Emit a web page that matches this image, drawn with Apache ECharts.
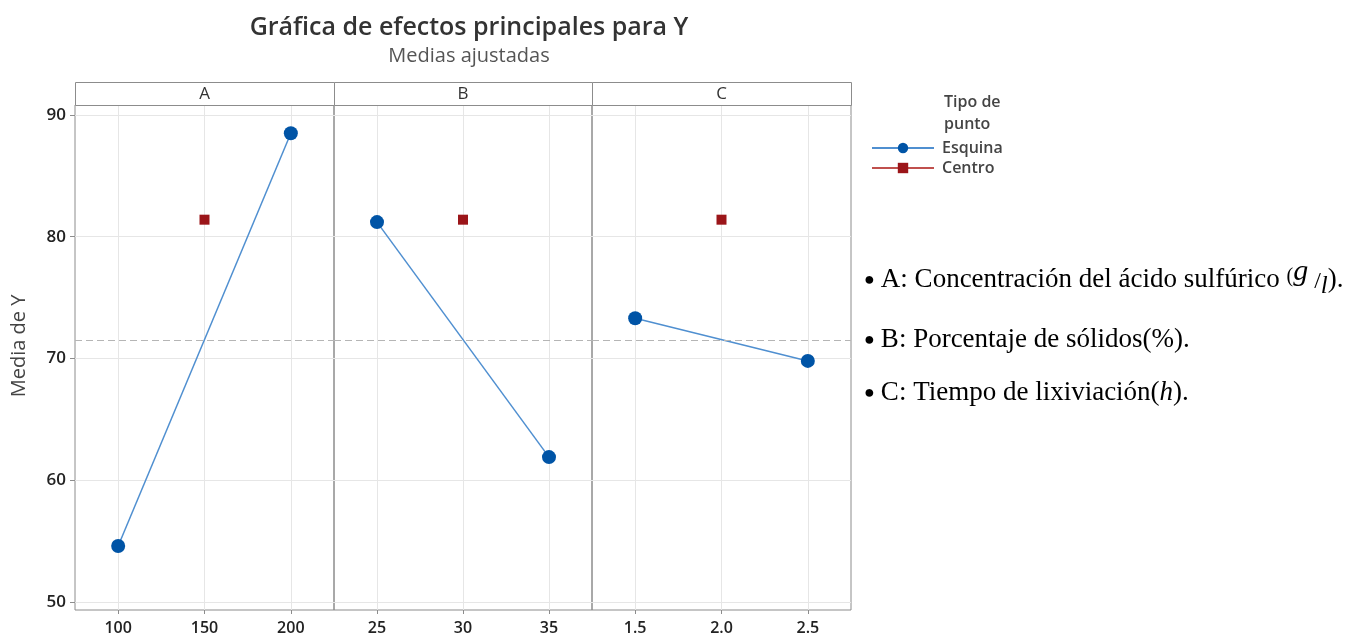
<!DOCTYPE html>
<html>
<head>
<meta charset="utf-8">
<title>Gráfica de efectos principales para Y</title>
<script src="https://cdn.jsdelivr.net/npm/echarts@6/dist/echarts.min.js"></script>
<style>
  html, body { margin: 0; padding: 0; background: #fff; }
  #chart { width: 1350px; height: 639px; }
</style>
</head>
<body>
<div id="chart"></div>
<script>
// niveles de cada factor
const levelsA = [100, 200]
const levelsB = [25, 35]
const levelsC = [1.5, 2.5]
const centerA = 150
const centerB = 30
const centerC = 2.0

// medias ajustadas (puntos de esquina)
const meansA = [54.6, 88.5]
const meansB = [81.2, 61.9]
const meansC = [73.3, 69.8]
// punto central
const centerMean = 81.4
// media general
const grandMean = 71.5

const factorNames = ['A', 'B', 'C']
const xRanges = [[75, 225], [22.5, 37.5], [1.25, 2.75]]
const yRange = [49.34, 90.82]

const notes = [
  'A: Concentración del ácido sulfúrico ',
  'B: Porcentaje de sólidos(%).',
  'C: Tiempo de lixiviación('
]

const font = 'Open Sans'
const blue = '#0054a6'
const lineBlue = '#4f8fd0'
const red = '#9b1519'

const plotLeft = 75
const plotTop = 105
const plotBottom = 610
const panelW = [259, 258, 259]
const stripH = 23

const chart = echarts.init(document.getElementById('chart'))

const grids = []
const xAxes = []
const yAxes = []
const series = []
const graphics = []
let x0 = plotLeft

const corners = [
  [levelsA, meansA, centerA],
  [levelsB, meansB, centerB],
  [levelsC, meansC, centerC]
]

factorNames.forEach((name, i) => {
  grids.push({
    left: x0,
    width: panelW[i],
    top: plotTop,
    height: plotBottom - plotTop,
    show: true,
    borderColor: '#8c8c8c',
    borderWidth: 1
  })
  xAxes.push({
    type: 'value',
    gridIndex: i,
    min: xRanges[i][0],
    max: xRanges[i][1],
    splitNumber: 3,
    axisLine: { show: false },
    axisTick: { show: true, length: 4, lineStyle: { color: '#8c8c8c' } },
    axisLabel: {
      showMinLabel: false,
      showMaxLabel: false,
      margin: 10,
      fontFamily: font,
      fontWeight: 600,
      fontSize: 16,
      color: '#222',
      formatter: v => (i === 2 ? v.toFixed(1) : String(v))
    },
    splitLine: {
      show: true,
      showMinLine: false,
      showMaxLine: false,
      lineStyle: { color: '#e6e6e6' }
    }
  })
  yAxes.push({
    type: 'value',
    gridIndex: i,
    min: yRange[0],
    max: yRange[1],
    splitNumber: 4,
    axisLine: { show: false },
    axisTick: { show: i === 0, length: 5, lineStyle: { color: '#8c8c8c' } },
    axisLabel: {
      show: i === 0,
      showMinLabel: false,
      showMaxLabel: false,
      margin: 9,
      fontFamily: font,
      fontWeight: 600,
      fontSize: 17,
      color: '#222'
    },
    splitLine: {
      show: true,
      showMinLine: false,
      showMaxLine: false,
      lineStyle: { color: '#e6e6e6' }
    }
  })
  const [lv, mv, cx] = corners[i]
  series.push({
    name: 'Esquina',
    type: 'line',
    xAxisIndex: i,
    yAxisIndex: i,
    data: lv.map((x, k) => [x, mv[k]]),
    symbol: 'circle',
    symbolSize: 14,
    itemStyle: { color: blue },
    lineStyle: { color: lineBlue, width: 1.5 },
    z: 3,
    markLine: {
      silent: true,
      symbol: 'none',
      label: { show: false },
      lineStyle: { color: '#b5b5b5', type: [7, 4], width: 1 },
      data: [{ yAxis: grandMean }]
    }
  })
  series.push({
    name: 'Centro',
    type: 'line',
    xAxisIndex: i,
    yAxisIndex: i,
    data: [[cx, centerMean]],
    symbol: 'rect',
    symbolSize: 10,
    itemStyle: { color: red },
    lineStyle: { color: '#c0504d', width: 1 },
    z: 3
  })
  // franja de encabezado
  graphics.push({
    type: 'rect',
    left: x0,
    top: plotTop - stripH,
    shape: { width: panelW[i], height: stripH },
    style: { fill: '#fff', stroke: '#8c8c8c', lineWidth: 1 },
    z: 10
  })
  graphics.push({
    type: 'text',
    x: x0 + panelW[i] / 2,
    y: plotTop - stripH / 2 + 1,
    style: {
      text: name,
      fontFamily: font,
      fontSize: 17,
      fill: '#333',
      align: 'center',
      verticalAlign: 'middle'
    },
    z: 11
  })
  x0 += panelW[i]
})

// nombre del eje Y
graphics.push({
  type: 'text',
  x: 19,
  y: 346,
  rotation: Math.PI / 2,
  style: {
    text: 'Media de Y',
    fontFamily: font,
    fontSize: 20,
    fill: '#444',
    align: 'center',
    verticalAlign: 'middle'
  }
})

// titulo de la leyenda
graphics.push({
  type: 'text',
  x: 944,
  y: 91,
  style: {
    text: 'Tipo de\npunto',
    fontFamily: font,
    fontWeight: 600,
    fontSize: 16,
    lineHeight: 22,
    fill: '#444'
  }
})

// notas de los factores
const noteY = [280, 340, 393]
const serif = 'Liberation Serif'
const rich = {
  n: { fontFamily: serif, fontSize: 27, fill: '#000' },
  b: { fontFamily: serif, fontSize: 18, fill: '#000', padding: [0, 6, 0, 0] },
  p: { fontFamily: serif, fontSize: 20, fill: '#000', padding: [0, 0, 6, 0] },
  g: { fontFamily: serif, fontStyle: 'italic', fontSize: 30, fill: '#000', padding: [0, 0, 16, 0] },
  s: { fontFamily: serif, fontSize: 24, fill: '#000', padding: [4, 0, 0, 0] },
  l: { fontFamily: serif, fontStyle: 'italic', fontSize: 25, fill: '#000', padding: [12, 0, 0, 0] },
  h: { fontFamily: serif, fontStyle: 'italic', fontSize: 27, fill: '#000' }
}
const noteTexts = [
  '{b|●}{n|' + notes[0] + '}{p|(}{g|g}{s| /}{l|l}{n|).}',
  '{b|●}{n|' + notes[1] + '}',
  '{b|●}{n|' + notes[2] + '}{h|h}{n|).}'
]
noteTexts.forEach((t, i) => {
  graphics.push({
    type: 'text',
    x: 864,
    y: noteY[i],
    style: {
      text: t,
      rich: rich,
      verticalAlign: 'middle'
    }
  })
})

chart.setOption({
  backgroundColor: '#fff',
  animation: false,
  title: {
    text: 'Gráfica de efectos principales para Y',
    subtext: 'Medias ajustadas',
    left: 464,
    textAlign: 'center',
    top: 10,
    itemGap: 6,
    textStyle: { fontFamily: font, fontWeight: 600, fontSize: 25, color: '#333' },
    subtextStyle: { fontFamily: font, fontSize: 20, color: '#555' }
  },
  legend: {
    data: ['Esquina', 'Centro'],
    orient: 'vertical',
    left: 866,
    top: 135,
    itemWidth: 62,
    itemHeight: 13,
    itemGap: 4,
    textStyle: { fontFamily: font, fontWeight: 600, fontSize: 16, color: '#444', padding: [0, 0, 0, 3] }
  },
  grid: grids,
  xAxis: xAxes,
  yAxis: yAxes,
  series: series,
  graphic: graphics
})

window.addEventListener('resize', () => {
  chart.resize()
})
</script>
</body>
</html>
